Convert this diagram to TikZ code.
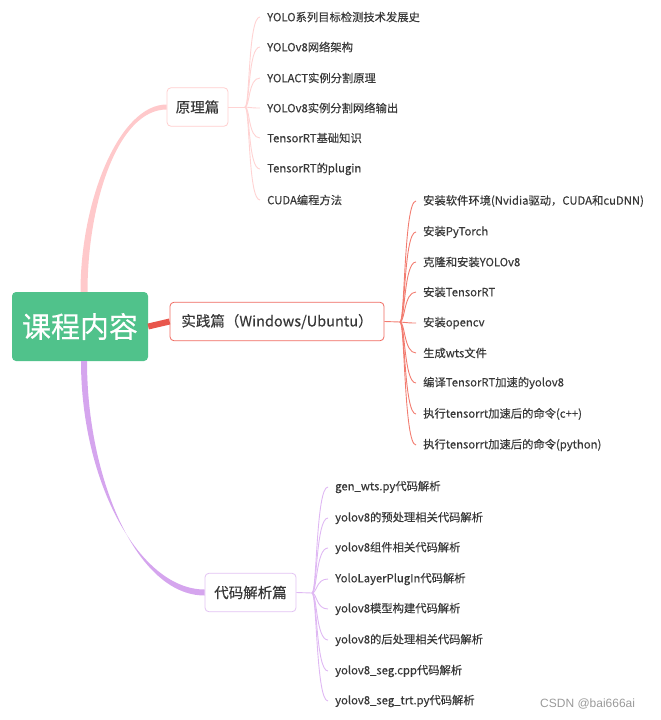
\documentclass[tikz,border=0pt]{standalone}
\usepackage{fontspec}
\setmainfont{Noto Sans CJK SC}[FakeBold=0.25]
\newfontfamily\wmfont{Liberation Sans}
\usetikzlibrary{calc}
\definecolor{rootg}{HTML}{50C28B}
\definecolor{txt}{HTML}{383838}
\definecolor{pinkB}{HTML}{FFCFCF}
\definecolor{pinkT}{HTML}{FFC9CB}
\definecolor{pinkL}{HTML}{FFD3D3}
\definecolor{redB}{HTML}{F06A60}
\definecolor{redT}{HTML}{E8564C}
\definecolor{redL}{HTML}{F27C70}
\definecolor{purpB}{HTML}{E2C3F3}
\definecolor{purpT}{HTML}{D5A5EE}
\definecolor{purpL}{HTML}{DFB8F3}
\definecolor{wm}{HTML}{9A9A9A}
\begin{document}
\begin{tikzpicture}[x=1pt,y=-1pt,
  rootbox/.style={fill=rootg, rounded corners=4pt, text=white, inner sep=0pt,
    minimum width=136pt, minimum height=69pt, font=\fontsize{29}{34}\selectfont},
  branchbox/.style={draw, fill=white, rounded corners=4pt, line width=0.8pt, text=txt,
    inner sep=0pt, minimum height=38.5pt, font=\fontsize{14.5}{17}\selectfont},
  leaf/.style={anchor=west, inner xsep=7pt, inner ysep=1pt, text=txt,
    font=\fontsize{11.3}{13}\selectfont},
  twig/.style={line width=0.9pt}
]
\useasboundingbox (0,0) rectangle (661,720);

% root and branches
\node[rootbox] (root) at (80,326.5) {课程内容};
\node[branchbox, draw=pinkB, minimum width=61pt] (yuanli) at (197.5,107) {原理篇};
\node[branchbox, draw=redB, minimum width=214pt] (shijian) at (277,321.5) {实践篇（Windows/Ubuntu）};
\node[branchbox, draw=purpB, minimum width=91pt] (daima) at (250.5,592.5) {代码解析篇};

% junctions
\coordinate (J1) at (245,107);
\coordinate (J2) at (400,322);
\coordinate (J3) at (312,593);

% leaves of 原理篇
\foreach \y/\t [count=\i] in {17/YOLO系列目标检测技术发展史, 47/YOLOv8网络架构, 78/YOLACT实例分割原理,
  108/YOLOv8实例分割网络输出, 138/TensorRT基础知识, 169/TensorRT的plugin, 200/CUDA编程方法}
  \node[leaf] (a\i) at (260,\y) {\t};

% leaves of 实践篇
\foreach \y/\t [count=\i] in {201/安装软件环境(Nvidia驱动，CUDA和cuDNN), 232/安装PyTorch, 262/克隆和安装YOLOv8,
  292/安装TensorRT, 323/安装opencv, 353/生成wts文件, 383/编译TensorRT加速的yolov8,
  414/执行tensorrt加速后的命令(c++), 445/执行tensorrt加速后的命令(python)}
  \node[leaf] (b\i) at (416,\y) {\t};

% leaves of 代码解析篇
\foreach \y/\t [count=\i] in {487/gen\_wts.py代码解析, 518/yolov8的预处理相关代码解析, 548/yolov8组件相关代码解析,
  579/YoloLayerPlugIn代码解析, 609/yolov8模型构建代码解析, 640/yolov8的后处理相关代码解析,
  671/yolov8\_seg.cpp代码解析, 701/yolov8\_seg\_trt.py代码解析}
  \node[leaf] (c\i) at (328,\y) {\t};

% thick main connectors
\fill[pinkT] ($(root.north)+(0.5,0)$) .. controls +(0,-92) and +(-47,0) .. ($(yuanli.west)+(0,-2.5)$)
  -- ($(yuanli.west)+(0,2.5)$) .. controls +(-49,0) and +(0,-88) .. ($(root.north)+(7.5,0)$) -- cycle;
\fill[purpT] ($(root.south)+(1,0)$) .. controls +(0,121) and +(-65,0) .. ($(daima.west)+(0,-3)$)
  -- ($(daima.west)+(0,3)$) .. controls +(-68,0) and +(0,117) .. ($(root.south)+(7,0)$) -- cycle;
\draw[redT, line width=6pt] (root.east) -- (shijian.west);

% twigs
\draw[twig, pinkL] (yuanli.east) -- (J1);
\foreach \i in {1,...,7}
  \draw[twig, pinkL] (J1) .. controls +(5,0) and +(-12,0) .. (a\i.west);
\draw[twig, redL] (shijian.east) -- (J2);
\foreach \i in {1,...,9}
  \draw[twig, redL] (J2) .. controls +(5,0) and +(-12,0) .. (b\i.west);
\draw[twig, purpL] (daima.east) -- (J3);
\foreach \i in {1,...,8}
  \draw[twig, purpL] (J3) .. controls +(5,0) and +(-12,0) .. (c\i.west);

% watermark
\node[anchor=west, inner sep=0pt, text=wm, font=\wmfont\fontsize{12}{14}\selectfont] (wmk) at (540,704) {CSDN @bai666ai};
\end{tikzpicture}
\end{document}
